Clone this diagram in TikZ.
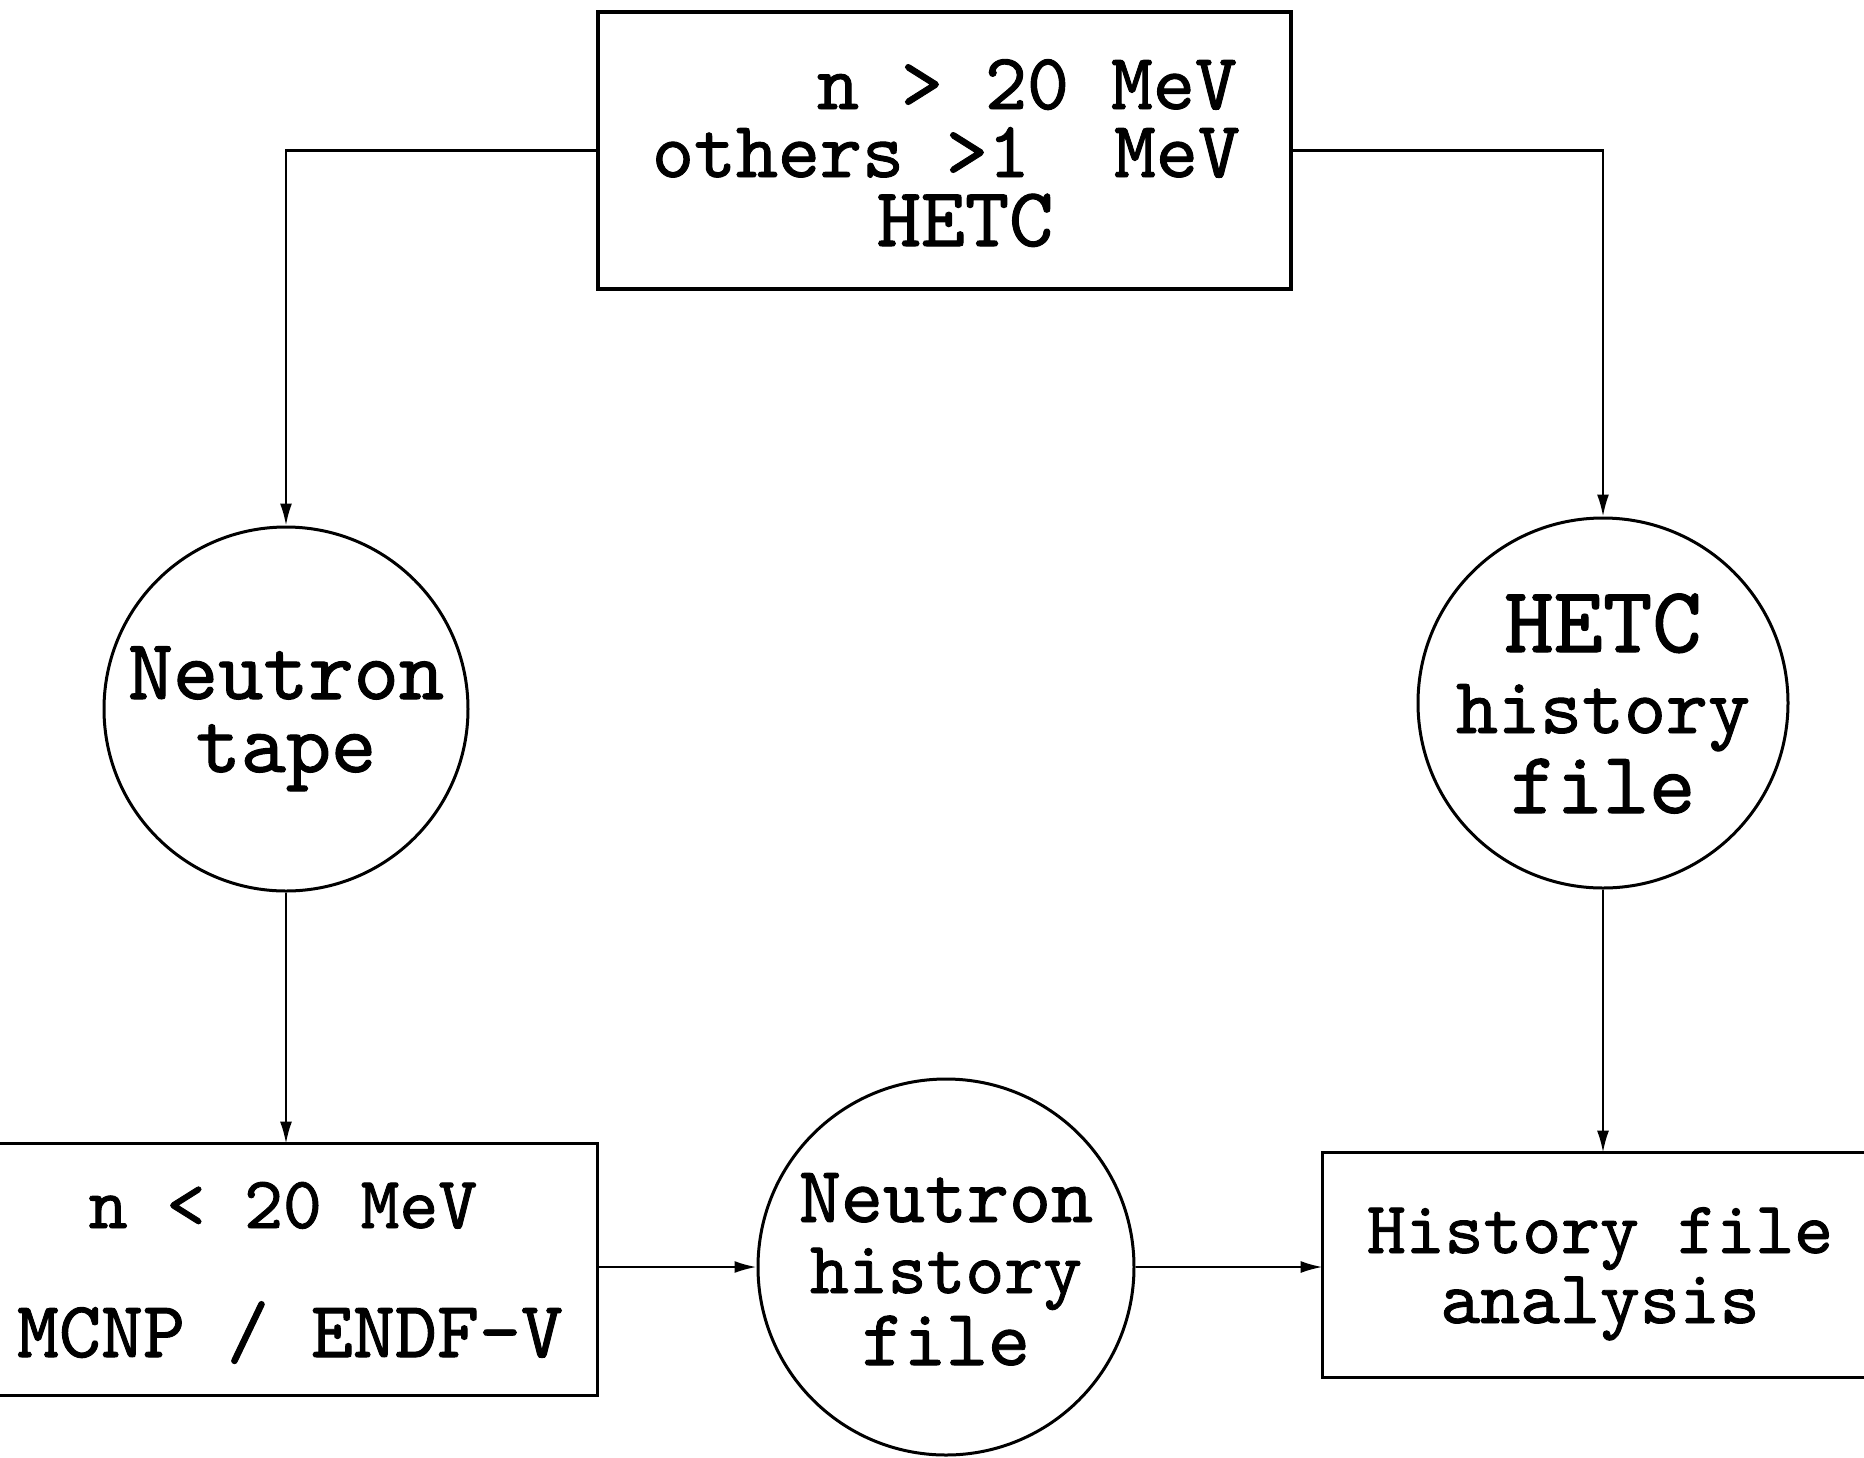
\documentclass[tikz,border=0pt]{standalone}
\usepackage{fontspec}
\newfontfamily\tfont{lmmono10-regular.otf}[FakeBold=1.2]
\usetikzlibrary{arrows.meta}
\begin{document}
\begin{tikzpicture}[x=0.5pt,y=-0.5pt,
  rectbox/.style={draw,line width=1.7pt,inner sep=0pt,rectangle},
  openbox/.style={inner sep=0pt,rectangle},
  boxline/.style={line width=1.7pt,line join=miter},
  circbox/.style={draw,line width=1.5pt,inner sep=0pt,circle},
  txt/.style={anchor=base,inner sep=0pt,font=\fontsize{40}{40}\selectfont\tfont},
  arr/.style={line width=1.1pt,-{Latex[length=11pt,width=6pt]}}]
\useasboundingbox (0,0) rectangle (1864,1457);
\fill[white] (0,0) rectangle (1864,1457);

% top box
\node[rectbox,minimum width=346.5pt,minimum height=138.5pt] (top) at (944.5,150.5) {};
\node[txt] (t1) at (1027,109) {n > 20 MeV};
\node[txt] (t2) at (946,177) {others >1\ \ MeV};
\node[txt,font=\fontsize{42}{42}\selectfont\tfont] (t3) at (965,246) {HETC};

% neutron tape
\node[circbox,minimum size=182pt] (ntape) at (286,709) {};
\node[txt,font=\fontsize{43}{43}\selectfont\tfont] (nt1) at (286,699) {Neutron};
\node[txt,font=\fontsize{43}{43}\selectfont\tfont] (nt2) at (286,772) {tape};

% HETC history file
\node[circbox,minimum size=185pt] (hetc) at (1603,703) {};
\node[txt,font=\fontsize{47}{47}\selectfont\tfont] (h1) at (1603,652) {HETC};
\node[txt] (h2) at (1603,733) {history};
\node[txt,font=\fontsize{44}{44}\selectfont\tfont] (h3) at (1603,813) {file};

% low energy box (left side off the page)
\node[openbox,minimum width=303.5pt,minimum height=125.5pt] (low) at (293.5,1269.5) {};
\draw[boxline] (low.north west) -- (low.north east) -- (low.south east) -- (low.south west);
\node[txt,font=\fontsize{37}{37}\selectfont\tfont] (l1) at (283,1228) {n < 20 MeV};
\node[txt] (l2) at (290,1357) {MCNP / ENDF-V};

% neutron history file
\node[circbox,minimum size=188pt] (nhist) at (946,1267) {};
\node[txt] (n1) at (946,1222) {Neutron};
\node[txt,font=\fontsize{37}{37}\selectfont\tfont] (n2) at (946,1293) {history};
\node[txt,font=\fontsize{40}{40}\selectfont\tfont] (n3) at (946,1365) {file};

% analysis box (right side off the page)
\node[openbox,minimum width=278.5pt,minimum height=112pt] (anal) at (1601.5,1265) {};
\draw[boxline] (anal.north east) -- (anal.north west) -- (anal.south west) -- (anal.south east);
\node[txt,font=\fontsize{37}{37}\selectfont\tfont] (a1) at (1600,1253) {History file};
\node[txt,font=\fontsize{38}{38}\selectfont\tfont] (a2) at (1600,1323) {analysis};

% connectors
\draw[arr] (top.west) -| (ntape.north);
\draw[arr] (top.east) -| (hetc.north);
\draw[arr] (ntape.south) -- (ntape.south |- low.north);
\draw[arr] (hetc.south) -- (hetc.south |- anal.north);
\draw[arr] (low.east |- nhist.west) -- (nhist.west);
\draw[arr] (nhist.east) -- (nhist.east -| anal.west);
\end{tikzpicture}
\end{document}
